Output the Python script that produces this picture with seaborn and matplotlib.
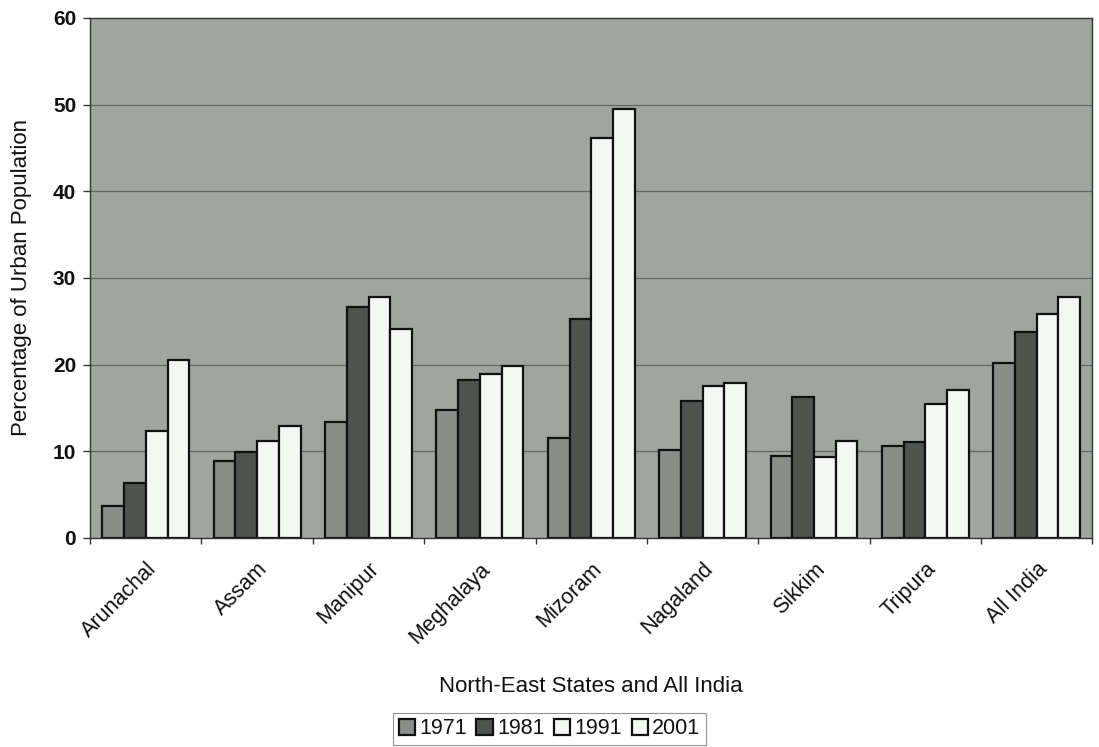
import numpy as np
import pandas as pd
import matplotlib
matplotlib.use("Agg")
import matplotlib.pyplot as plt
import seaborn as sns

states = ["Arunachal", "Assam", "Manipur", "Meghalaya", "Mizoram",
          "Nagaland", "Sikkim", "Tripura", "All India"]
years = ["1971", "1981", "1991", "2001"]
v1971 = [3.7, 8.9, 13.4, 14.7, 11.5, 10.1, 9.5, 10.6, 20.2]
v1981 = [6.3, 9.9, 26.6, 18.2, 25.2, 15.8, 16.3, 11.1, 23.7]
v1991 = [12.3, 11.2, 27.8, 18.9, 46.2, 17.5, 9.3, 15.4, 25.8]
v2001 = [20.5, 12.9, 24.1, 19.8, 49.5, 17.9, 11.2, 17.1, 27.8]

df = pd.DataFrame({
    "State": states * 4,
    "Year": sum([[y] * len(states) for y in years], []),
    "Value": v1971 + v1981 + v1991 + v2001,
})

sns.set_theme(style="white")
plt.rcParams["font.family"] = ["Liberation Sans", "DejaVu Sans"]
plt.rcParams["text.color"] = "#111111"
plt.rcParams["axes.labelcolor"] = "#111111"
plt.rcParams["xtick.color"] = "#111111"
plt.rcParams["ytick.color"] = "#111111"

fig = plt.figure(figsize=(10.99, 7.47), dpi=100)
ax = fig.add_axes([0.082, 0.28, 0.912, 0.696])
ax.set_facecolor("#a0a5a0")

palette = {"1971": "#8a8e8a", "1981": "#4f534f", "1991": "#f5f7f5", "2001": "#f5f7f5"}
sns.barplot(data=df, x="State", y="Value", hue="Year", order=states,
            hue_order=years, palette=palette, width=0.78, gap=0.0,
            edgecolor="#111111", linewidth=1.6, saturation=1, ax=ax, legend=True)

ax.set_ylim(0, 60)
ax.set_yticks(range(0, 61, 10))
ax.set_xlim(-0.5, len(states) - 0.5)
for yv in range(10, 60, 10):
    ax.axhline(yv, color="#646864", linewidth=0.9, zorder=0)
ax.set_axisbelow(True)

for s in ["top", "right", "left", "bottom"]:
    ax.spines[s].set_visible(True)
    ax.spines[s].set_color("#333333")
    ax.spines[s].set_linewidth(1.0)

ax.tick_params(axis="y", which="major", left=True, length=5, width=1,
               color="#333333", labelsize=15, pad=5)
for t in ax.get_yticklabels():
    t.set_fontweight("bold")
ax.tick_params(axis="x", which="major", bottom=False, labelsize=15.5, pad=9)
ax.set_xticks(np.arange(len(states)))
ax.set_xticklabels(states, rotation=45, ha="right", rotation_mode="anchor")
ax.set_xticks(np.arange(-0.5, len(states), 1.0), minor=True)
ax.tick_params(axis="x", which="minor", bottom=True, length=4, width=1, color="#333333")

ax.set_ylabel("Percentage of Urban Population", fontsize=16)
ax.yaxis.set_label_coords(-0.058, 0.5)
ax.set_xlabel("North-East States and All India", fontsize=16)
ax.xaxis.set_label_coords(0.5, -0.265)

handles, labels = ax.get_legend_handles_labels()
ax.legend_.remove()
leg = fig.legend(handles, labels, loc="lower center", bbox_to_anchor=(0.5, 0.0),
                 ncol=4, frameon=True, fontsize=15.5, handlelength=0.75,
                 handleheight=0.75, handletextpad=0.2, columnspacing=0.45,
                 borderpad=0.25, borderaxespad=0.1, fancybox=False,
                 edgecolor="#777777")
leg.get_frame().set_linewidth(0.8)

fig.savefig("out.png", dpi=100, facecolor="white")
